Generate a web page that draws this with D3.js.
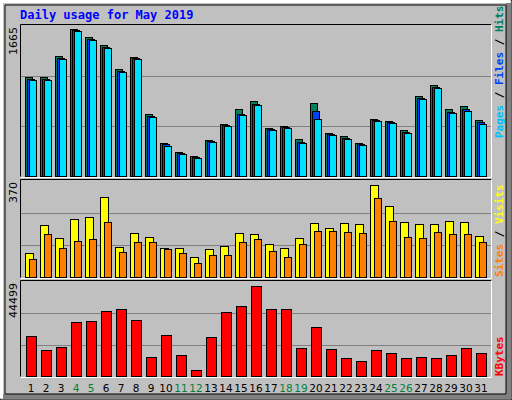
<!DOCTYPE html><html><head><meta charset="utf-8">
<script src="https://cdn.jsdelivr.net/npm/d3@7"></script>
<style>body{margin:0;background:#fff}svg{display:block}</style></head><body>
<script>
const days=d3.range(1,32);
const weekend=[4,5,11,12,18,19,25,26];
const hits=[1099,1099,1332,1632,1543,1454,1188,1321,688,366,266,222,400,577,744,833,533,555,411,810,477,444,366,633,611,511,888,1010,744,777,622];
const files=[1080,1080,1310,1620,1525,1435,1170,1305,670,350,255,210,388,565,690,800,522,544,380,722,466,425,355,622,600,490,870,990,710,740,600];
const pages=[1066,1066,1299,1610,1510,1421,1154,1299,655,333,244,200,377,555,677,788,511,533,366,633,455,411,344,611,588,477,855,977,699,722,577];
const visits=[91,201,152,224,231,307,114,171,156,110,110,76,106,121,171,167,129,110,152,209,190,209,205,353,273,213,205,205,216,213,159];
const sites=[68,167,110,140,148,213,95,133,133,106,91,53,83,83,133,148,102,76,129,178,178,175,171,304,216,156,152,175,167,167,133];
const kbytes=[19004,12515,13905,25493,25956,30591,31518,26420,8807,19467,9734,2781,18540,30128,33372,42642,31518,31518,13442,23175,12978,8343,6953,12515,10661,8343,8807,8343,9734,13442,11124];
const maxHits=1665,maxVisits=370,maxKB=44499;

const svg=d3.select("body").append("svg").attr("width",512).attr("height",400);
svg.append("rect").attr("width",512).attr("height",400).attr("fill","#c0c0c0");
// bevel
svg.append("rect").attr("x",0).attr("y",0).attr("width",512).attr("height",400).attr("fill","none").attr("stroke","#000").attr("stroke-width",1);
svg.append("path").attr("d","M1.5,398.5V1.5H510.5").attr("stroke","#fff").attr("stroke-width",3).attr("fill","none");
svg.append("path").attr("d","M3,396.5H508.5V3").attr("stroke","#808080").attr("stroke-width",5).attr("fill","none");
svg.append("path").attr("d","M5,5H506V394H5Z").attr("stroke","#000").attr("fill","none");

svg.append("text").attr("x",20).attr("y",19).text("Daily usage for May 2019")
 .attr("font-family","DejaVu Sans Mono").attr("font-weight","bold").attr("font-size",12).attr("fill","#0000ff");

const x=d3.scaleBand().domain(days).range([21,491]).paddingInner(0);
const X0=d=>25+(d-1)*15;
const panels=[{t:25,b:176,max:maxHits,label:"1665"},{t:180,b:277,max:maxVisits,label:"370"},{t:281,b:376,max:maxKB,label:"44499"}];
panels.forEach(p=>{
  p.y=d3.scaleLinear().domain([0,p.max]).range([p.b,p.t+1]);
  svg.append("rect").attr("x",20.5).attr("y",p.t-0.5).attr("width",471).attr("height",p.b-p.t+1).attr("fill","#c0c0c0");
  [1,2].forEach(i=>svg.append("line").attr("x1",21).attr("x2",491).attr("y1",Math.round(p.y(p.max*i/3))+0.5).attr("y2",Math.round(p.y(p.max*i/3))+0.5).attr("stroke","#808080"));
  svg.append("path").attr("d",`M20.5,${p.b+0.5}V${p.t-0.5}H491.5`).attr("stroke","#000").attr("fill","none");
  svg.append("path").attr("d",`M20.5,${p.b+1.5}H491.5V${p.t-0.5}`).attr("stroke","#fff").attr("fill","none");
  svg.append("text").attr("transform",`translate(17,${p.t+2}) rotate(-90)`).attr("text-anchor","end")
   .attr("font-family","DejaVu Sans").attr("font-size",11).attr("fill","#000").text(p.label);
});
function bars(vals,p,off,w,fill){
  svg.append("g").selectAll("rect").data(days).join("rect")
   .attr("x",d=>X0(d)+off+0.5).attr("y",(d,i)=>Math.round(p.y(vals[i]))+0.5).attr("width",w)
   .attr("height",(d,i)=>p.b-Math.round(p.y(vals[i]))).attr("fill",fill).attr("stroke","#000");
}
bars(hits,panels[0],0,7,"#00805c");
bars(files,panels[0],2,7,"#0040ff");
bars(pages,panels[0],4,7,"#00e0ff");
bars(visits,panels[1],0,8,"#ffff00");
bars(sites,panels[1],4,7,"#ff8000");
bars(kbytes,panels[2],1,10,"#ff0000");

svg.append("g").selectAll("text").data(days).join("text")
 .attr("x",d=>X0(d)+6).attr("y",392).attr("text-anchor","middle").attr("font-family","DejaVu Sans").attr("font-size",10.5)
 .attr("fill",d=>weekend.includes(d)?"#008040":"#000").text(d=>d);

function legend(y0,parts){
  const t=svg.append("text").attr("transform",`translate(503,${y0}) rotate(-90)`).attr("font-family","DejaVu Sans Mono").attr("font-weight","bold").attr("font-size",11);
  parts.forEach(([s,c])=>t.append("tspan").attr("fill",c).text(s));
}
legend(138,[["Pages","#00c0ff"],[" / ","#000"],["Files","#0040ff"],[" / ","#000"],["Hits","#008060"]]);
legend(277,[["Sites","#ff8000"],[" / ","#000"],["Visits","#ffff00"]]);
legend(376,[["KBytes","#ff0000"]]);
</script></body></html>
